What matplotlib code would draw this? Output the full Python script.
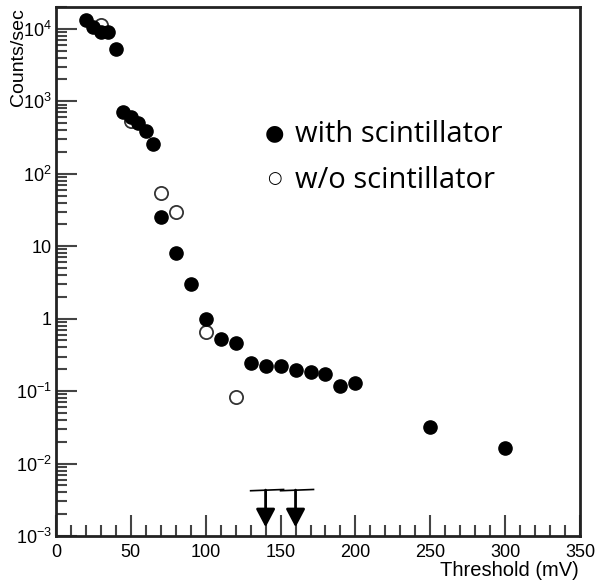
import numpy as np
import matplotlib.pyplot as plt
from matplotlib.ticker import FixedLocator, FuncFormatter, MultipleLocator

# data
thr_with = [20, 25, 30, 35, 40, 45, 50, 55, 60, 65, 70, 80, 90, 100, 110, 120,
            130, 140, 150, 160, 170, 180, 190, 200, 250, 300]
rate_with = [13300, 10700, 9000, 9000, 5300, 705, 600, 500, 393, 255, 25, 8.0,
             3.0, 1.0, 0.52, 0.46, 0.248, 0.219, 0.219, 0.194, 0.181, 0.171,
             0.117, 0.13, 0.032, 0.0166]
thr_without = [30, 50, 70, 80, 100, 120]
rate_without = [11300, 540, 53.6, 29.5, 0.66, 0.083]
# upper limits
ul_x = [140, 160]
ul_y = [0.0043, 0.0043]
ul_tip = 0.00132

plt.rcParams['font.family'] = ['Liberation Sans', 'DejaVu Sans']
plt.rcParams['mathtext.default'] = 'regular'

fig = plt.figure(figsize=(5.99, 5.83), dpi=100)
ax = fig.add_axes([56 / 599, 1 - 536 / 583, (580 - 56) / 599, (536 - 7) / 583])

ax.plot(thr_with, rate_with, 'o', color='black', markersize=9.5, zorder=3)
ax.plot(thr_without, rate_without, 'o', markerfacecolor='white',
        markeredgecolor='#333333', markeredgewidth=1.3, markersize=9.5, zorder=2)

for x, y in zip(ul_x, ul_y):
    ax.plot([x - 10, x + 12], [y * 0.98, y * 1.02], color='black', lw=1.2)
    ax.annotate('', xy=(x, ul_tip), xytext=(x, y),
                arrowprops=dict(arrowstyle='-|>,head_width=0.58,head_length=1.1',
                                color='black', lw=2, shrinkA=0, shrinkB=0))

ax.set_yscale('log')
ax.set_xlim(0, 350)
ax.set_ylim(1e-3, 2e4)

ax.xaxis.set_major_locator(MultipleLocator(50))
ax.xaxis.set_minor_locator(MultipleLocator(10))
ax.yaxis.set_major_locator(FixedLocator([10.0 ** k for k in range(-3, 5)]))
minors = [m * 10.0 ** k for k in range(-3, 5) for m in range(2, 10)]
ax.yaxis.set_minor_locator(FixedLocator(minors))


def fmt(v, pos):
    k = int(round(np.log10(v)))
    if k == 0:
        return '1'
    if k == 1:
        return '10'
    return '$10^{%d}$' % k


ax.yaxis.set_major_formatter(FuncFormatter(fmt))
ax.yaxis.set_minor_formatter(FuncFormatter(lambda v, p: ''))

for s in ax.spines.values():
    s.set_linewidth(2)
    s.set_color('#222222')
ax.tick_params(which='both', direction='in', top=False, right=False,
               colors='#444444', labelcolor='black', labelsize=13)
ax.tick_params(which='major', length=15, width=1.5, pad=6)
ax.tick_params(which='minor', length=8, width=1.5)
ax.tick_params(axis='y', which='major', pad=3)

fig.text(579 / 599, 1 - 571 / 583, 'Threshold (mV)', ha='right', va='center',
         fontsize=14.5)
fig.text(19 / 599, 1 - 8 / 583, 'Counts/sec', rotation=90, ha='center',
         va='top', fontsize=14)

# legend, written as text like the original slide
leg_font = ['Open Sans', 'DejaVu Sans']
ax.text(0.416, 0.762, '\u25cf', transform=ax.transAxes, fontsize=16,
        family='DejaVu Sans', ha='center', va='center')
ax.text(0.416, 0.677, '\u25cb', transform=ax.transAxes, fontsize=12,
        family='DejaVu Sans', ha='center', va='center')
ax.text(0.456, 0.745, 'with scintillator', transform=ax.transAxes,
        fontsize=21, family=leg_font, va='baseline')
ax.text(0.456, 0.658, 'w/o scintillator', transform=ax.transAxes,
        fontsize=21, family=leg_font, va='baseline')

fig.savefig('out.png', dpi=100)
